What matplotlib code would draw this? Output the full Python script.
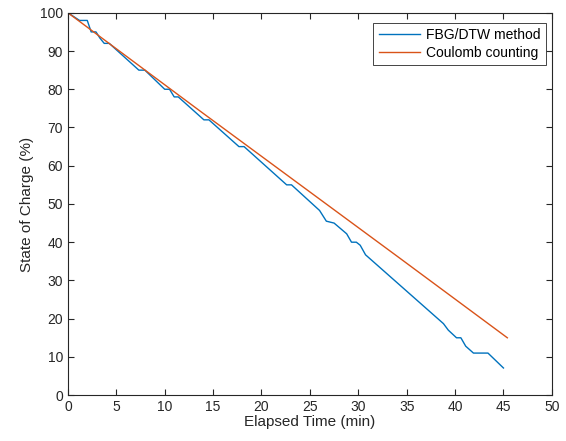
import matplotlib.pyplot as plt

plt.rcParams['font.family'] = ['Liberation Sans', 'DejaVu Sans']

# FBG/DTW estimate
fbg_t = [0, 1.2, 2.0, 2.4, 2.9, 3.3, 3.75, 4.27, 7.33, 7.95, 10.0, 10.5, 10.98, 11.4,
         14.05, 14.57, 17.67, 18.2, 22.6, 23.1, 26.0, 26.7, 27.5, 28.8, 29.3, 29.8,
         30.2, 30.75, 38.8, 39.3, 40.15, 40.6, 41.1, 41.9, 43.4, 45.0]
fbg_soc = [100, 98, 98, 95, 95, 93.4, 92, 92, 85, 85, 80, 80, 78, 78,
           72, 72, 65, 65, 55, 55, 48.3, 45.5, 45, 42.2, 40, 40,
           39.2, 36.7, 18.7, 17, 15, 15, 12.8, 11, 11, 7.1]

# Coulomb counting reference
cc_t = [0, 13.6, 34.3, 45.4]
cc_soc = [100, 74.4, 35.8, 15]

fig = plt.figure(figsize=(5.66, 4.41), dpi=100)
ax = fig.add_axes([0.120, 0.104, 0.855, 0.867])

ax.plot(fbg_t, fbg_soc, color='#0072BD', lw=1.0, label='FBG/DTW method')
ax.plot(cc_t, cc_soc, color='#D95319', lw=1.0, label='Coulomb counting')

ax.set_xlim(0, 50)
ax.set_ylim(0, 100)
ax.set_xticks(range(0, 51, 5))
ax.set_yticks(range(0, 101, 10))

dark = '#262626'
for s in ax.spines.values():
    s.set_color(dark)
    s.set_linewidth(0.8)
ax.tick_params(direction='in', top=True, right=True, colors=dark,
               labelsize=10, length=4, width=0.8)
ax.set_xlabel('Elapsed Time (min)', fontsize=11, color=dark, labelpad=1)
ax.set_ylabel('State of Charge (%)', fontsize=11, color=dark, labelpad=4)

leg = ax.legend(loc='upper right', bbox_to_anchor=(0.9876, 0.974), borderaxespad=0,
                fontsize=10, fancybox=False, framealpha=1, edgecolor=dark,
                handlelength=3.0, borderpad=0.4, labelspacing=0.25,
                handletextpad=0.4)
leg.get_frame().set_linewidth(0.6)

fig.savefig('out.png', dpi=100)
